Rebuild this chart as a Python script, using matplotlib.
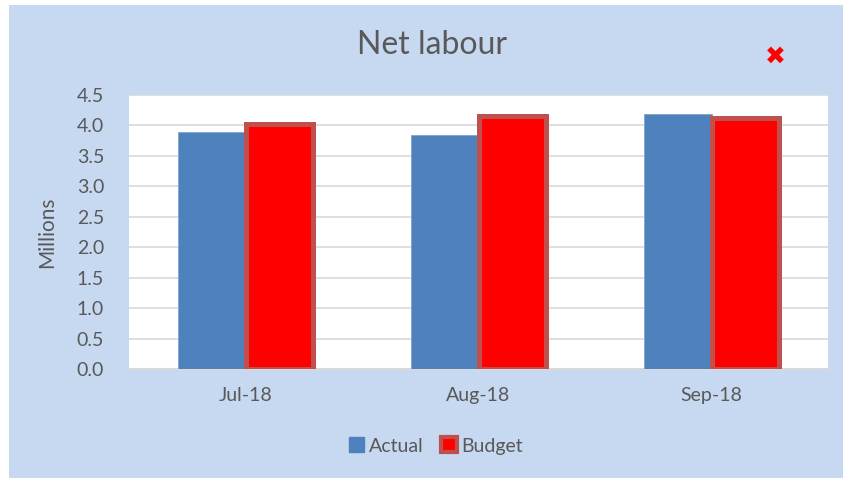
import numpy as np
import matplotlib.pyplot as plt
from matplotlib.patches import Rectangle, Patch

months = ["Jul-18", "Aug-18", "Sep-18"]
actual = [3.90, 3.84, 4.19]
budget = [4.02, 4.15, 4.12]

plt.rcParams["font.family"] = ["Lato", "DejaVu Sans"]
text_color = "#595959"
bg_blue = "#C6D9F1"

fig = plt.figure(figsize=(8.43, 4.79), dpi=100, facecolor="white")
fig.patches.append(Rectangle((9 / 843, 1 - 478 / 479), 834 / 843, 473 / 479,
                             transform=fig.transFigure, facecolor=bg_blue,
                             edgecolor="none", zorder=-10))

ax = fig.add_axes([129 / 843, 1 - 369 / 479, 699 / 843, 274 / 479])
ax.set_facecolor("white")

x = np.arange(len(months))
w = 0.29
ax.bar(x - w / 2, actual, w, color="#4F81BD", edgecolor="#7FA3D1",
       linewidth=0.6, zorder=3)
ax.bar(x + w / 2, budget, w, color="#FF0000", edgecolor="#C0504D",
       linewidth=3.6, zorder=4)

ax.set_xlim(-0.5, 2.5)
ax.set_ylim(0, 4.5)
ax.set_yticks(np.arange(0, 4.51, 0.5))
ax.set_yticklabels([f"{v:.1f}" for v in np.arange(0, 4.51, 0.5)])
ax.set_xticks(x)
ax.set_xticklabels(months)
ax.yaxis.grid(True, color="#D9D9D9", linewidth=1.2, zorder=0)
ax.set_axisbelow(True)
for s in ["left", "right", "top"]:
    ax.spines[s].set_visible(False)
ax.spines["bottom"].set_color("#D9D9D9")
ax.spines["bottom"].set_linewidth(1.5)
ax.tick_params(axis="both", length=0, labelsize=14, colors=text_color)
ax.tick_params(axis="y", pad=18)
ax.tick_params(axis="x", pad=13)
ax.set_ylabel("Millions", fontsize=15, color=text_color, labelpad=14)

fig.text(432 / 843, 1 - 45 / 479, "Net labour", ha="center", va="center",
         fontsize=23, color=text_color)
fig.text(775 / 843, 1 - 57 / 479, "\u2716", ha="center", va="center",
         fontsize=18, color="#FF0000", family="DejaVu Sans")

handles = [Patch(facecolor="#4F81BD", edgecolor="#4F81BD"),
           Patch(facecolor="#FF0000", edgecolor="#C0504D", linewidth=3)]
fig.legend(handles, ["Actual", "Budget"], loc="center",
           bbox_to_anchor=(436 / 843, 1 - 446 / 479), ncol=2, frameon=False,
           fontsize=14, labelcolor=text_color, handlelength=0.8,
           handleheight=0.8, handletextpad=0.25, columnspacing=0.9)

fig.savefig("out.png", dpi=100)
